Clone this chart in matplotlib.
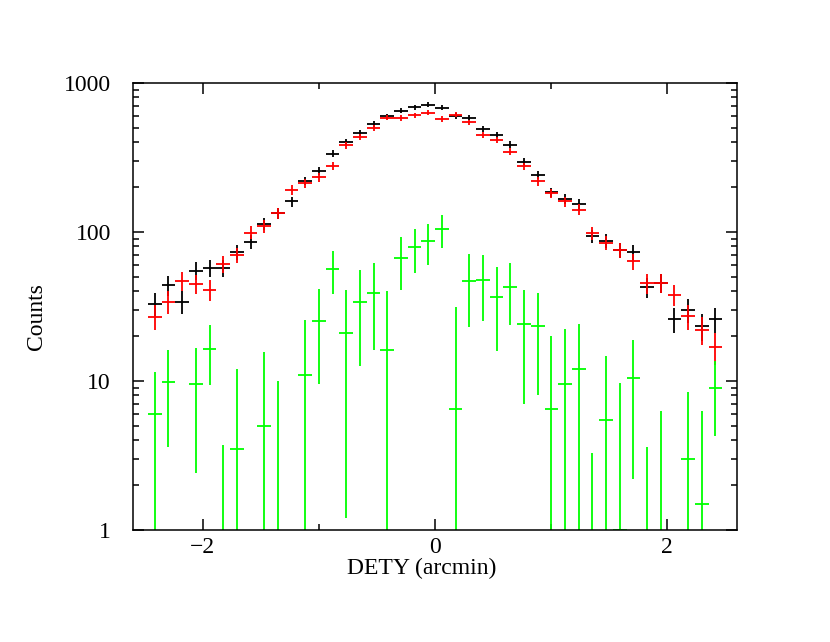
import numpy as np
import matplotlib
matplotlib.use("Agg")
import matplotlib.pyplot as plt
from matplotlib.ticker import FixedLocator, NullFormatter, LogLocator

# ---------------- data ----------------
n_bins = 42
x_first, x_last = -2.414, 2.414
bin_centers = np.linspace(x_first, x_last, n_bins)
half_width = (x_last - x_first) / (n_bins - 1) / 2.0

black_counts = [33, 44, 34, 55, 57, 57, 73, 86, 113, 133,
                160, 220, 258, 334, 399, 464, 530, 597, 652, 683,
                715, 680, 600, 585, 493, 448, 385, 296, 241, 184,
                166, 153, 93.5, 87.5, 75.7, 73.4, 42.5, 45.7, 25.9, 30,
                23.4, 25.9]
red_counts = [27, 34, 47, 45, 41, 61, 70, 99, 109, 133,
              191, 212, 232, 278, 380, 436, 496, 585, 582, 604,
              632, 573, 610, 542, 448, 414, 344, 275, 219, 181,
              160, 141, 98, 84.4, 76, 63.5, 45.2, 45.7, 37.9, 27.2,
              22.1, 17]

# green: net counts and 1-sigma errors (nan = not shown)
green_counts = [6.0, 9.9, np.nan, 9.5, 16.5, 0.0, 3.5, np.nan, 5.0, 0.0,
                np.nan, 11.0, 25.4, 56.1, 20.9, 34.1, 39.0, 16.0, 66.5, 79.3,
                86.5, 104.0, 6.45, 46.9, 47.8, 36.8, 42.9, 24.0, 23.5, 6.45,
                9.5, 12.0, 0.0, 5.5, 1.0, 10.5, 0.0, 0.0, np.nan, 3.0,
                1.5, 9.0]
green_errors = [5.5, 6.3, np.nan, 7.1, 7.1, 3.7, 8.6, np.nan, 10.7, 10.0,
                np.nan, 14.8, 15.9, 18.0, 19.7, 21.5, 23.0, 24.4, 25.5, 26.0,
                26.5, 25.6, 24.8, 24.0, 22.5, 21.0, 19.2, 17.0, 15.5, 13.6,
                12.8, 12.1, 3.3, 9.3, 8.7, 8.3, 3.6, 6.25, np.nan, 5.4,
                4.8, 4.7]

x_ticks_major = [-2, 0, 2]
x_ticks_minor = [-1, 1]
y_ticks = [1, 10, 100, 1000]
y_tick_labels = ["1", "10", "100", "1000"]

# ---------------- plot ----------------
plt.rcParams['font.family'] = ['Liberation Serif', 'DejaVu Serif']

fig = plt.figure(figsize=(8.3, 6.42), dpi=100)
ax = fig.add_axes([0.1605, 0.1745, 0.7275, 0.6965])
ax.set_yscale('log')

LW = 1.3
FLOOR = 0.05
FS = 17


def draw_series(counts, errors, color):
    c = np.asarray(counts, dtype=float)
    e = np.asarray(errors, dtype=float)
    ok = ~np.isnan(c)
    xc, cc, ee = bin_centers[ok], c[ok], e[ok]
    lo = np.maximum(cc - ee, FLOOR)
    hi = cc + ee
    ax.vlines(xc, lo, hi, colors=color, linewidth=LW)
    pos = cc > 0
    ax.hlines(cc[pos], xc[pos] - half_width, xc[pos] + half_width,
              colors=color, linewidth=LW)


black_arr = np.asarray(black_counts, dtype=float)
red_arr = np.asarray(red_counts, dtype=float)
draw_series(black_arr, np.sqrt(black_arr), 'black')
draw_series(red_arr, np.sqrt(red_arr), '#ff0000')
draw_series(green_counts, green_errors, '#00ff00')

ax.set_xlim(-2.6, 2.6)
ax.set_ylim(1, 1000)

ax.xaxis.set_major_locator(FixedLocator(x_ticks_major))
ax.xaxis.set_minor_locator(FixedLocator(x_ticks_minor))
ax.set_xticklabels(['\u22122', '0', '2'])
ax.yaxis.set_major_locator(FixedLocator(y_ticks))
ax.set_yticklabels(y_tick_labels)
ax.yaxis.set_minor_locator(LogLocator(base=10, subs=np.arange(2, 10)))
ax.yaxis.set_minor_formatter(NullFormatter())

ax.tick_params(which='both', direction='in', top=True, right=True,
               width=1.1, colors='black', labelsize=FS)
ax.tick_params(which='major', length=8)
ax.tick_params(which='minor', length=4.6)
ax.tick_params(axis='y', which='major', pad=16)
ax.tick_params(axis='x', which='major', pad=5)

for s in ax.spines.values():
    s.set_linewidth(1.1)

ax.set_xlabel('DETY (arcmin)', fontsize=FS)
ax.xaxis.label.set_va('baseline')
ax.xaxis.set_label_coords(0.478, -0.098)
ax.set_ylabel('Counts', fontsize=FS)
ax.yaxis.label.set_va('center')
ax.yaxis.set_label_coords(-0.1594, 0.4765)

fig.savefig('out.png', dpi=100)
